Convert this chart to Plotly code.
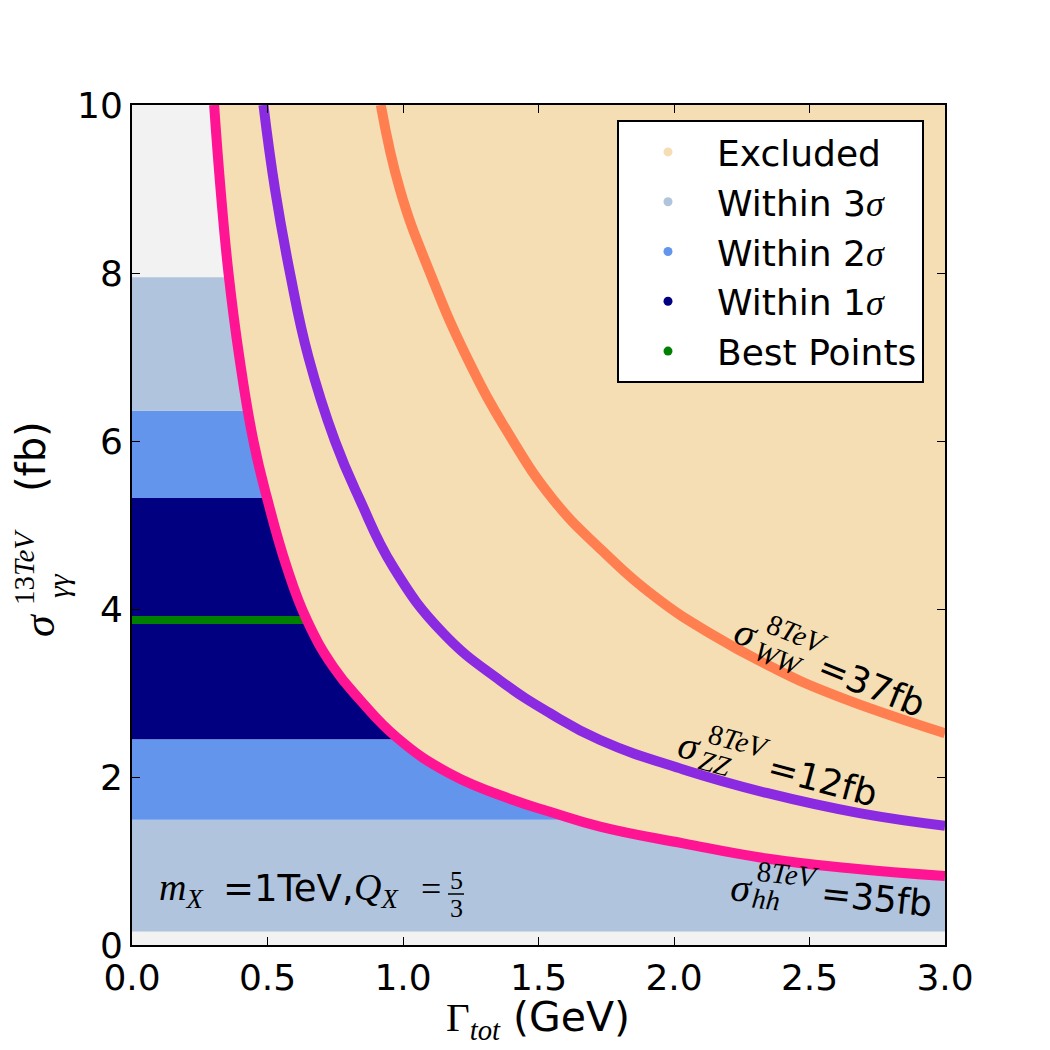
import plotly.graph_objects as go

# ---------------- data ----------------
gamma_hh = [0.303, 0.327, 0.356, 0.396, 0.448, 0.500, 0.571, 0.645, 0.743, 0.841,
            0.977, 1.173, 1.407, 1.542, 1.727, 2.034, 2.342, 2.649, 3.0]
sigma_hh = [10.0, 8.99, 8.0, 7.0, 6.0, 5.30, 4.50, 3.87, 3.31, 2.92,
            2.47, 2.04, 1.726, 1.587, 1.41, 1.21, 1.03, 0.913, 0.82]

gamma_zz = [0.485, 0.528, 0.583, 0.651, 0.749, 0.841, 0.964, 1.149, 1.358, 1.542,
            1.727, 2.034, 2.342, 2.684, 3.0]
sigma_zz = [10.0, 8.99, 8.0, 7.0, 6.0, 5.30, 4.50, 3.71, 3.15, 2.76,
            2.44, 2.09, 1.81, 1.57, 1.42]

gamma_ww = [0.918, 0.989, 1.10, 1.235, 1.389, 1.555, 1.727, 1.936, 2.133, 2.366,
            2.588, 3.0]
sigma_ww = [10.0, 8.99, 8.0, 7.0, 6.09, 5.30, 4.72, 4.13, 3.71, 3.30,
            2.98, 2.52]

# horizontal likelihood bands (sigma_gamma_gamma ranges)
band_lo = [0.16, 1.49, 2.45, 5.32, 6.36]
band_hi = [1.49, 2.45, 5.32, 6.36, 7.95]
band_level = ["3", "2", "1", "2", "3"]

best_sigma = 3.87
best_gamma = [0.0, 0.64]

x_range = [0.0, 3.0]
y_range = [0.0, 10.0]
x_ticks = [0.0, 0.5, 1.0, 1.5, 2.0, 2.5, 3.0]
y_ticks = [0, 2, 4, 6, 8, 10]

# ---------------- styles ----------------
level_color = {"1": "#000080", "2": "#6495ed", "3": "#b0c4de"}
EXCL = "#f5deb3"
GRAY = "#f2f2f2"
SANS = "DejaVu Sans"
SERIF = "Liberation Serif"

fig = go.Figure()

# bands
for lo, hi, lv in zip(band_lo, band_hi, band_level):
    fig.add_trace(go.Scatter(
        x=[x_range[0], x_range[1], x_range[1], x_range[0], x_range[0]],
        y=[lo, lo, hi, hi, lo],
        fill="toself", fillcolor=level_color[lv], mode="lines",
        line=dict(width=0, color=level_color[lv]), showlegend=False, hoverinfo="skip"))

# best points
fig.add_trace(go.Scatter(x=best_gamma, y=[best_sigma] * len(best_gamma), mode="lines",
                         line=dict(color="#008000", width=8), showlegend=False))

# excluded region (above the hh curve)
fig.add_trace(go.Scatter(
    x=gamma_hh + [x_range[1], gamma_hh[0]],
    y=sigma_hh + [y_range[1], y_range[1]],
    fill="toself", fillcolor=EXCL, mode="lines",
    line=dict(width=0, color=EXCL), showlegend=False, hoverinfo="skip"))

# constraint curves
for gx, sy, col in [(gamma_hh, sigma_hh, "#ff1493"),
                    (gamma_zz, sigma_zz, "#8a2be2"),
                    (gamma_ww, sigma_ww, "#ff7f50")]:
    fig.add_trace(go.Scatter(x=gx, y=sy, mode="lines",
                             line=dict(color=col, width=10, shape="spline", smoothing=1.3),
                             showlegend=False))

# legend entries
sig_i = '<span style="font-family:%s"><i>σ</i></span>' % SERIF
legend_items = [("Excluded", EXCL), ("Within 3" + sig_i, level_color["3"]),
                ("Within 2" + sig_i, level_color["2"]), ("Within 1" + sig_i, level_color["1"]),
                ("Best Points", "#008000")]
for i, (name, col) in enumerate(legend_items):
    fig.add_trace(go.Scatter(x=[None], y=[None], mode="markers", name=name,
                             marker=dict(color=col, size=9), legendgroup="g%d" % i))

# plot area in screenshot pixels
L, R, T, B = 132, 945, 105, 945
OFF = 8  # page body margin


def P(xp, yp):
    return (xp - L) / (R - L), (B - yp) / (B - T)


annots = []


def txt(xp, yp, text, size, family, angle=0, xanchor="center", yanchor="middle"):
    x, y = P(xp, yp)
    annots.append(dict(x=x, y=y, xref="paper", yref="paper", text=text, showarrow=False,
                       textangle=angle, xanchor=xanchor, yanchor=yanchor,
                       font=dict(size=size, family=family, color="black")))


# curve labels
for (s_xy, sup_xy, sub_xy, val_xy, sub, val, ang) in [
        ((746, 632), (797, 634), (778, 658), (872, 685), "WW", "=37fb", 22),
        ((689, 745), (739, 741), (715, 763), (823, 780), "ZZ", "=12fb", 15),
        ((741, 887), (788, 874), (766, 899), (877, 898), "hh", "=35fb", 6)]:
    txt(*s_xy, "<i>σ</i>", 40, SERIF, ang)
    txt(*sup_xy, "8<i>TeV</i>", 29, SERIF, ang)
    txt(*sub_xy, "<i>%s</i>" % sub, 28, SERIF, ang)
    txt(*val_xy, val, 36, SANS, ang)

# mass / charge label
txt(157, 890, "<i>m</i><sub><i>X</i></sub>", 38, SERIF, xanchor="left")
txt(221, 888, "=1TeV,", 37, SANS, xanchor="left")
txt(352, 890, "<i>Q</i><sub><i>X</i></sub>", 38, SERIF, xanchor="left")
txt(431, 889, "=", 36, SERIF)
txt(456, 880, "5", 26, SERIF)
txt(456, 908, "3", 26, SERIF)

# y-axis title pieces
txt(39, 625, "<i>σ</i>", 44, SERIF, -90)
txt(24, 567, "13<i>TeV</i>", 29, SERIF, -90)
txt(58, 586, "<i>γγ</i>", 30, SERIF, -90)
txt(31, 457, "(fb)", 40, SANS, -90)

# x-axis title
txt(538, 1020, '<span style="font-family:%s">Γ<sub><i>tot</i></sub></span> (GeV)' % SERIF, 41, SANS)

fx0, fy0 = P(448, 894)
fx1, fy1 = P(464, 894)

fig.update_layout(
    width=1050, height=1050,
    margin=dict(l=L - OFF, r=1050 - R + OFF, t=T - OFF, b=1050 - B + OFF),
    paper_bgcolor="white", plot_bgcolor=GRAY,
    annotations=annots,
    shapes=[dict(type="line", xref="paper", yref="paper", x0=fx0, x1=fx1, y0=fy0, y1=fy1,
                 line=dict(color="black", width=1.5))],
    legend=dict(x=(617 - L) / (R - L), y=(B - 120) / (B - T), xanchor="left", yanchor="top",
                bgcolor="white", bordercolor="black", borderwidth=2,
                font=dict(family=SANS, size=36, color="black"),
                itemwidth=88, tracegroupgap=9, traceorder="normal"),
    font=dict(family=SANS, color="black"),
)
axis_common = dict(showgrid=False, zeroline=False, showline=True, linecolor="black", linewidth=2,
                   mirror="allticks", ticks="inside", ticklen=8, tickwidth=1, tickcolor="black",
                   tickfont=dict(family=SANS, size=36, color="black"))
fig.update_xaxes(range=x_range, tickvals=x_ticks, tickformat=".1f", **axis_common)
fig.update_yaxes(range=y_range, tickvals=y_ticks, tickformat="d", **axis_common)

fig.write_html("out.html")
